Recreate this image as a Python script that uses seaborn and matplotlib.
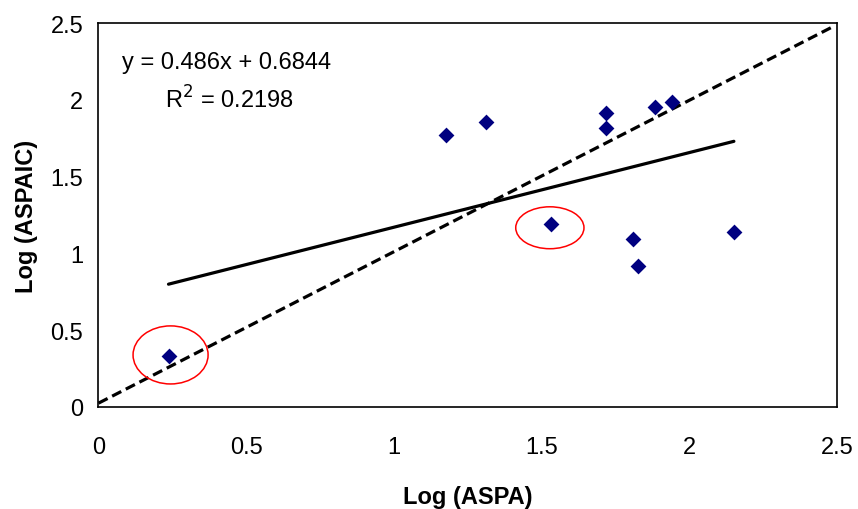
import matplotlib
matplotlib.use("Agg")
import matplotlib.pyplot as plt
import seaborn as sns
import numpy as np
import pandas as pd
from matplotlib.patches import Ellipse

# Data
log_aspa = [0.237, 1.177, 1.313, 1.717, 1.717, 1.885, 1.941, 1.531, 1.811, 1.828, 2.151]
log_aspaic = [0.334, 1.773, 1.855, 1.912, 1.814, 1.951, 1.984, 1.191, 1.094, 0.916, 1.139]
slope = 0.486
intercept = 0.6844
r2 = 0.2198
identity_x = [0.0, 2.48]
identity_y = [0.025, 2.47]
circled = [(0.244, 0.339, 0.254, 0.378), (1.528, 1.167, 0.231, 0.273)]
ticks = [0, 0.5, 1, 1.5, 2, 2.5]
tick_labels = ["0", "0.5", "1", "1.5", "2", "2.5"]

sns.set_style("white")
plt.rcParams['font.family'] = ['Liberation Sans', 'DejaVu Sans']
plt.rcParams['text.color'] = 'black'
plt.rcParams['axes.labelcolor'] = 'black'

fs = 17
fig = plt.figure(figsize=(8.58, 5.10), dpi=100)
ax = fig.add_axes([0.1148, 0.2, 0.8607, 0.7529])

df = pd.DataFrame({"x": log_aspa, "y": log_aspaic})
sns.scatterplot(data=df, x="x", y="y", marker="D", color="#000080", s=65,
                edgecolor="#000080", linewidth=0, ax=ax, zorder=5)

xr = np.array([min(log_aspa), max(log_aspa)])
sns.lineplot(x=xr, y=slope * xr + intercept, color="black", linewidth=2.3, ax=ax)
ax.plot(identity_x, identity_y, color="black", linewidth=2.3, linestyle=(0, (3.2, 1.6)))

for cx, cy, w, h in circled:
    ax.add_patch(Ellipse((cx, cy), w, h, fill=False, edgecolor="red", linewidth=1.1, zorder=6))

ax.set_xlim(0, 2.5)
ax.set_ylim(0, 2.5)
ax.set_xticks(ticks)
ax.set_xticklabels(tick_labels)
ax.set_yticks(ticks)
ax.set_yticklabels(tick_labels)
ax.tick_params(axis="both", direction="out", length=5, width=1, labelsize=fs, colors="black")
ax.tick_params(axis="x", pad=16)
ax.tick_params(axis="y", pad=6)
for sp in ax.spines.values():
    sp.set_visible(True)
    sp.set_color("black")
    sp.set_linewidth(1.2)

ax.set_xlabel("Log (ASPA)", fontsize=fs, fontweight="bold", labelpad=19, color="black")
ax.set_ylabel("Log (ASPAIC)", fontsize=fs, fontweight="bold", labelpad=9, color="black")

ax.text(0.08, 2.246, f"y = {slope}x + {intercept}", fontsize=fs, va="center", ha="left", color="black")
ax.text(0.225, 2.005, f"R$^2$ = {r2}", fontsize=fs, va="center", ha="left", color="black")

fig.savefig("out.png", dpi=100)
